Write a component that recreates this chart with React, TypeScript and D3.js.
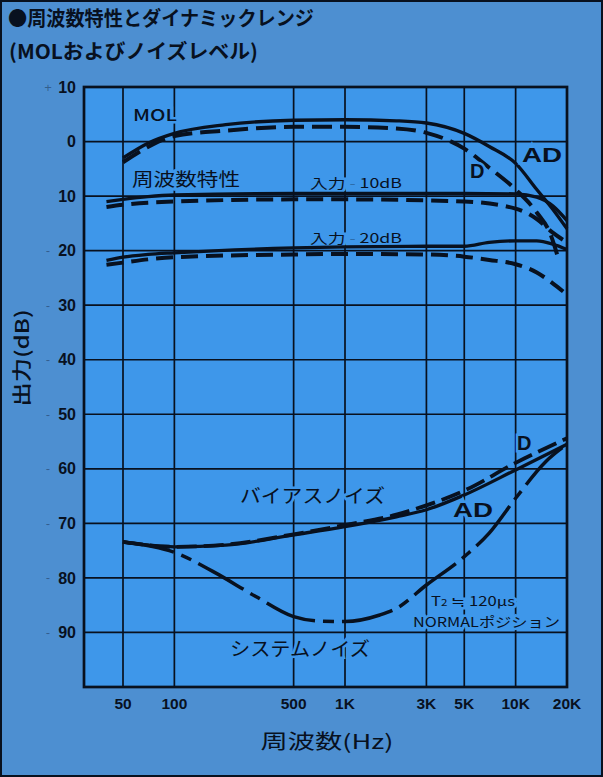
import * as d3 from "d3";

// frequency response / dynamic range (MOL and noise level)
const X_TICKS = [50, 100, 500, 1000, 3000, 5000, 10000, 20000];
const X_LABELS = ["50", "100", "500", "1K", "3K", "5K", "10K", "20K"];
const X_GRID = [50, 100, 500, 1000, 3000, 5000, 10000];
const Y_TICKS = [10, 0, -10, -20, -30, -40, -50, -60, -70, -80, -90];

// MOL
const MOL_AD_HZ = [50, 70, 100, 200, 500, 1000, 2000, 3000, 5000, 7000, 10000, 13300, 16500, 20000];
const MOL_AD_DB = [-3.0, -0.3, 1.5, 3.1, 3.9, 4.0, 3.8, 3.4, 1.5, -0.9, -4.0, -8.8, -12.4, -16.0];
const MOL_D_HZ = [50, 70, 100, 200, 500, 1000, 2000, 3000, 5000, 7000, 10000, 13300, 16000, 18000];
const MOL_D_DB = [-3.8, -1.0, 1.0, 2.0, 2.7, 2.7, 2.4, 1.6, -1.3, -4.8, -8.8, -13.0, -17.0, -22.0];

// response at input -10dB
const IN10_HZ = [40, 50, 70, 100, 500, 1000, 5000, 10000, 13300, 16500, 20000];
const IN10_AD_DB = [-11.0, -10.6, -10.1, -9.8, -9.5, -9.5, -9.5, -9.6, -10.2, -11.8, -14.5];
const IN10_D_DB = [-12.0, -11.6, -11.2, -11.0, -10.6, -10.6, -11.0, -12.3, -14.2, -16.7, -18.5];

// response at input -20dB
const IN20_AD_HZ = [40, 50, 70, 100, 500, 1000, 3000, 5000, 7000, 10000, 13300, 16500, 20000];
const IN20_AD_DB = [-21.8, -21.2, -20.7, -20.4, -19.5, -19.3, -19.2, -19.2, -18.5, -18.2, -18.2, -18.8, -19.8];
const IN20_D_HZ = [40, 50, 70, 100, 500, 1000, 3000, 5000, 7000, 10000, 13300, 16500, 19000];
const IN20_D_DB = [-22.6, -22.2, -21.6, -21.2, -20.7, -20.6, -20.7, -21.1, -21.7, -22.5, -24.0, -26.0, -27.5];

// bias noise
const BIAS_HZ = [50, 100, 200, 500, 1000, 2000, 3000, 5000, 10000, 20000];
const BIAS_AD_DB = [-73.4, -74.3, -74.0, -72.1, -70.6, -68.8, -67.5, -64.8, -60.2, -55.5];
const BIAS_D_DB = [-73.4, -74.3, -73.9, -72.0, -70.3, -68.4, -66.7, -64.0, -58.9, -54.4];

// system noise
const SYS_HZ = [50, 100, 170, 300, 500, 700, 1000, 1600, 2000, 3000, 5000, 7000, 10000, 15000, 20000];
const SYS_DB = [-73.4, -75.3, -78.9, -83.4, -87.1, -87.9, -88.0, -86.8, -85.6, -81.3, -76.1, -71.8, -65.4, -58.7, -55.5];

const W = 603;
const H = 777;
const PAGE_BG = "#4d8fd1";
const PLOT_BG = "#3e97ea";
const INK = "#08111f";
const JP = "'Noto Sans CJK JP', 'Noto Sans', sans-serif";
const NUM = "'Liberation Sans', Arial, sans-serif";

const frame = { left: 84, right: 567, top: 87, bottom: 687 };

export default function App() {
  const x = d3.scaleLog().domain([50, 20000]).range([123, 567]);
  const y = d3.scaleLinear().domain([10, -100]).range([frame.top, frame.bottom]);

  const line = d3
    .line<[number, number]>()
    .x((d) => x(d[0]))
    .y((d) => y(d[1]))
    .curve(d3.curveMonotoneX);

  const path = (hz: number[], db: number[]) =>
    line(hz.map((f, i) => [f, db[i]] as [number, number])) || "";

  const series = [
    { d: path(MOL_AD_HZ, MOL_AD_DB), dash: null, w: 3.3 },
    { d: path(MOL_D_HZ, MOL_D_DB), dash: "20 8", w: 4 },
    { d: path(IN10_HZ, IN10_AD_DB), dash: null, w: 3.3 },
    { d: path(IN10_HZ, IN10_D_DB), dash: "17 8", w: 4 },
    { d: path(IN20_AD_HZ, IN20_AD_DB), dash: null, w: 3.3 },
    { d: path(IN20_D_HZ, IN20_D_DB), dash: "17 8", w: 4 },
    { d: path(BIAS_HZ, BIAS_AD_DB), dash: null, w: 3.3 },
    { d: path(BIAS_HZ, BIAS_D_DB), dash: "20 7", w: 3.8 },
    { d: path(SYS_HZ, SYS_DB), dash: "52 8 11 8", w: 3.5 },
  ];

  const halo = { stroke: PLOT_BG, strokeWidth: 5, paintOrder: "stroke" as const };

  return (
    <div style={{ position: "absolute", left: 0, top: 0 }}>
      <svg width={W} height={H} style={{ display: "block" }}>
        <rect x={0} y={0} width={W} height={H} fill={PAGE_BG} />
        <rect x={1} y={1} width={W - 2} height={H - 2} fill="none" stroke={INK} strokeWidth={2} />

        {/* title */}
        <text x={8} y={26} fontFamily={JP} fontWeight={700} fontSize={20} fill={INK} textLength={306} lengthAdjust="spacingAndGlyphs">
          ●周波数特性とダイナミックレンジ
        </text>
        <text x={9} y={59} fontFamily={JP} fontWeight={700} fontSize={20} fill={INK} textLength={249} lengthAdjust="spacingAndGlyphs">
          (MOLおよびノイズレベル)
        </text>

        {/* plot area */}
        <rect x={frame.left} y={frame.top} width={frame.right - frame.left} height={frame.bottom - frame.top} fill={PLOT_BG} />

        {Y_TICKS.filter((t) => t < 10).map((t) => (
          <line key={"gy" + t} x1={frame.left} x2={frame.right} y1={y(t)} y2={y(t)} stroke={INK} strokeWidth={1.7} />
        ))}
        {X_GRID.map((t) => (
          <line key={"gx" + t} x1={x(t)} x2={x(t)} y1={frame.top} y2={frame.bottom} stroke={INK} strokeWidth={1.7} />
        ))}

        {/* in-plot labels (with knockout) */}
        <g fontFamily={JP} fill={INK} {...halo}>
          <text x={133} y={121} fontSize={16} fontWeight={500} textLength={44} lengthAdjust="spacingAndGlyphs">MOL</text>
          <text x={132} y={186} fontSize={18} textLength={108} lengthAdjust="spacingAndGlyphs">周波数特性</text>
          <text x={310} y={188} fontSize={13} textLength={92} lengthAdjust="spacingAndGlyphs">
            入力 <tspan fillOpacity={0.35}>-</tspan> 10dB
          </text>
          <text x={310} y={243} fontSize={13} textLength={92} lengthAdjust="spacingAndGlyphs">
            入力 <tspan fillOpacity={0.35}>-</tspan> 20dB
          </text>
          <text x={240} y={503} fontSize={19} textLength={145} lengthAdjust="spacingAndGlyphs">バイアスノイズ</text>
          <text x={230} y={656} fontSize={19} textLength={140} lengthAdjust="spacingAndGlyphs">システムノイズ</text>
          <text x={431} y={606} fontSize={13} textLength={84} lengthAdjust="spacingAndGlyphs">
            T<tspan fontSize={9}>2</tspan> ≒ 120μs
          </text>
          <text x={413} y={627} fontSize={13.5} textLength={147} lengthAdjust="spacingAndGlyphs">NORMALポジション</text>
        </g>

        {/* curves */}
        <g fill="none" stroke={INK} strokeLinecap="butt">
          {series.map((s, i) => (
            <path key={i} d={s.d} strokeWidth={s.w} strokeDasharray={s.dash || undefined} />
          ))}
        </g>

        <g fontFamily={NUM} fontWeight={700} fill={INK} {...halo}>
          <text x={522} y={162} fontSize={20} textLength={40} lengthAdjust="spacingAndGlyphs">AD</text>
          <text x={470} y={178} fontSize={20}>D</text>
          <text x={517} y={450} fontSize={20}>D</text>
          <text x={453} y={517} fontSize={20} textLength={40} lengthAdjust="spacingAndGlyphs">AD</text>
        </g>

        <rect x={frame.left} y={frame.top} width={frame.right - frame.left} height={frame.bottom - frame.top} fill="none" stroke={INK} strokeWidth={2.7} />

        {/* y axis labels */}
        <g fontFamily={NUM} fontWeight={700} fontSize={16} fill={INK}>
          {Y_TICKS.map((t) => (
            <g key={"yl" + t}>
              {(t > 0 || t <= -20) && (
                <text x={48} y={y(t)} dy="0.35em" textAnchor="middle" fontWeight={400} fillOpacity={0.4} fontSize={13}>
                  {t > 0 ? "+" : "-"}
                </text>
              )}
              <text x={76} y={y(t)} dy="0.35em" textAnchor="end">{Math.abs(t)}</text>
            </g>
          ))}
        </g>

        {/* x axis labels */}
        <g fontFamily={NUM} fontWeight={700} fontSize={15.5} fill={INK} textAnchor="middle">
          {X_TICKS.map((t, i) => (
            <text key={"xl" + t} x={x(t)} y={709}>{X_LABELS[i]}</text>
          ))}
        </g>

        <text x={327} y={749} textAnchor="middle" fontFamily={JP} fontSize={20} fill={INK} textLength={133} lengthAdjust="spacingAndGlyphs">
          周波数(Hz)
        </text>
        <text transform="translate(29,358) rotate(-90)" textAnchor="middle" fontFamily={JP} fontSize={19} fontWeight={500} fill={INK} textLength={97} lengthAdjust="spacingAndGlyphs">
          出力(dB)
        </text>
      </svg>
    </div>
  );
}
